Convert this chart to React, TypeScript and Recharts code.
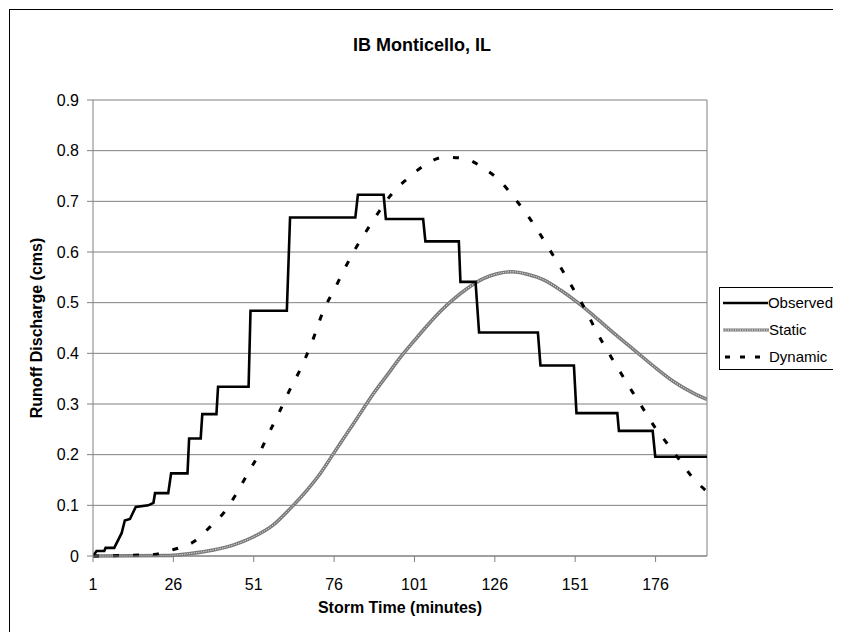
import { LineChart, Line, XAxis, YAxis, CartesianGrid, ReferenceLine } from 'recharts'

const FONT = '"Liberation Sans", Arial, sans-serif'

// minutes / cms
const obsTime = [1, 2.1, 4.5, 4.9, 7.6, 9.9, 10.9, 12.5, 14.3, 18.2, 19.8, 20.3, 24.4, 25.3, 30.4, 30.9, 34.5, 35, 39.4, 39.9, 49.4, 50, 61.3, 62.3, 82.6, 83.4, 91.4, 92.1, 103.7, 104.4, 114.8, 115.3, 120, 121.1, 139.4, 140.2, 150.6, 151.4, 164.1, 164.6, 175.1, 175.9, 192]
const obsValue = [0, 0.01, 0.01, 0.016, 0.016, 0.045, 0.07, 0.073, 0.097, 0.1, 0.105, 0.124, 0.124, 0.163, 0.163, 0.232, 0.232, 0.28, 0.28, 0.334, 0.334, 0.484, 0.484, 0.668, 0.668, 0.713, 0.713, 0.665, 0.665, 0.621, 0.621, 0.541, 0.541, 0.441, 0.441, 0.376, 0.376, 0.282, 0.282, 0.247, 0.247, 0.196, 0.196]

const staticTime = [1, 25, 31.3, 38.5, 44.8, 51, 57.2, 62.4, 67.6, 71.7, 75.9, 80, 84.2, 88.3, 92.5, 96.6, 100.8, 105, 109.1, 113, 117.4, 122.6, 126.7, 131.4, 136.1, 141.2, 146.4, 151.6, 156.8, 163, 169.3, 175.5, 181.7, 187.9, 192]
const staticValue = [0, 0.001, 0.005, 0.012, 0.022, 0.038, 0.062, 0.094, 0.13, 0.163, 0.203, 0.242, 0.282, 0.321, 0.357, 0.392, 0.424, 0.455, 0.483, 0.506, 0.528, 0.548, 0.557, 0.561, 0.556, 0.545, 0.525, 0.501, 0.474, 0.44, 0.407, 0.374, 0.344, 0.321, 0.309]

const dynTime = [1, 10, 20, 25.6, 32.3, 37.5, 41.9, 45.3, 48.9, 52.5, 55.7, 58.8, 61.9, 65.6, 69, 72.8, 76, 79.2, 82.5, 86.2, 90, 93.6, 98.3, 103.9, 110.1, 116.2, 122.1, 127.8, 131.9, 135.9, 139.5, 143.2, 147, 150.6, 154.2, 157.6, 161.5, 165.1, 168.8, 172.4, 175.7, 179.6, 183.5, 187.1, 192]
const dynValue = [0, 0.001, 0.003, 0.012, 0.028, 0.058, 0.087, 0.12, 0.16, 0.2, 0.242, 0.282, 0.324, 0.37, 0.42, 0.486, 0.525, 0.566, 0.605, 0.643, 0.68, 0.712, 0.742, 0.77, 0.787, 0.785, 0.767, 0.739, 0.708, 0.675, 0.641, 0.603, 0.564, 0.525, 0.486, 0.443, 0.4, 0.362, 0.324, 0.288, 0.255, 0.222, 0.189, 0.158, 0.127]

const xTicks = [1, 26, 51, 76, 101, 126, 151, 176]
const yTicks = [0, 0.1, 0.2, 0.3, 0.4, 0.5, 0.6, 0.7, 0.8, 0.9]
const yLabels = ['0', '0.1', '0.2', '0.3', '0.4', '0.5', '0.6', '0.7', '0.8', '0.9']

const zip = (ts: number[], vs: number[]) => ts.map((t, i) => ({ t, v: vs[i] }))
const observed = zip(obsTime, obsValue)
const staticData = zip(staticTime, staticValue)
const dynamic = zip(dynTime, dynValue)

const tickStyle = { fontSize: 16, fill: '#000', fontFamily: FONT }

function LegendBox() {
  const row = { display: 'flex', alignItems: 'center', height: 27 }
  return (
    <div style={{ position: 'absolute', left: 709, top: 277, width: 113, height: 80, border: '1px solid #000', background: '#fff', fontFamily: FONT, fontSize: 15, paddingTop: 1, boxSizing: 'content-box' }}>
      <div style={row}>
        <svg width={49} height={10}><line x1={3} y1={5} x2={49} y2={5} stroke="#000" strokeWidth={2.5} /></svg>
        <span>Observed</span>
      </div>
      <div style={row}>
        <svg width={49} height={10}>
          <line x1={3} y1={5} x2={49} y2={5} stroke="#7a7a7a" strokeWidth={3} />
          <line x1={3} y1={5} x2={49} y2={5} stroke="#fff" strokeWidth={1} strokeDasharray="1.2 1.2" />
        </svg>
        <span>Static</span>
      </div>
      <div style={row}>
        <svg width={49} height={10}><line x1={5} y1={5} x2={49} y2={5} stroke="#000" strokeWidth={3} strokeDasharray="5 10" /></svg>
        <span>Dynamic</span>
      </div>
    </div>
  )
}

export default function App() {
  return (
    <div style={{ position: 'relative', left: 1, top: 1, width: 824, height: 622, border: '1px solid #000', background: '#fff', fontFamily: FONT }}>
      <div style={{ position: 'absolute', left: 0, width: 824, top: 25, textAlign: 'center', fontSize: 18, fontWeight: 'bold' }}>
        IB Monticello, IL
      </div>
      <div style={{ position: 'absolute', left: 27, top: 318, transform: 'translate(-50%, -50%) rotate(-90deg)', whiteSpace: 'nowrap', fontSize: 16, fontWeight: 'bold' }}>
        Runoff Discharge (cms)
      </div>
      <div style={{ position: 'absolute', left: 390, top: 598, transform: 'translate(-50%, -50%)', whiteSpace: 'nowrap', fontSize: 16, fontWeight: 'bold' }}>
        Storm Time (minutes)
      </div>

      <LineChart width={824} height={622} margin={{ top: 90, right: 127, bottom: 46, left: 23 }}>
        <CartesianGrid horizontal vertical={false} stroke="#808080" strokeWidth={1} />
        <XAxis
          type="number"
          dataKey="t"
          domain={[1, 192]}
          ticks={xTicks}
          allowDataOverflow
          height={30}
          tickSize={6}
          tickMargin={17}
          stroke="#808080"
          tick={tickStyle}
        />
        <YAxis
          type="number"
          domain={[0, 0.9]}
          ticks={yTicks}
          tickFormatter={(v: number) => yLabels[yTicks.indexOf(v)] ?? String(v)}
          width={60}
          tickSize={6}
          tickMargin={8}
          stroke="#808080"
          tick={tickStyle}
        />
        <ReferenceLine x={192} stroke="#808080" />
        <Line data={staticData} dataKey="v" type="monotone" stroke="#7a7a7a" strokeWidth={3.5} dot={false} isAnimationActive={false} />
        <Line data={staticData} dataKey="v" type="monotone" stroke="#ffffff" strokeWidth={1} strokeDasharray="1.2 1.2" strokeOpacity={0.8} dot={false} legendType="none" isAnimationActive={false} />
        <Line data={dynamic} dataKey="v" type="monotone" stroke="#000" strokeWidth={3} strokeDasharray="6 14" dot={false} isAnimationActive={false} />
        <Line data={observed} dataKey="v" type="linear" stroke="#000" strokeWidth={2.6} dot={false} isAnimationActive={false} />
      </LineChart>
      <LegendBox />
    </div>
  )
}
